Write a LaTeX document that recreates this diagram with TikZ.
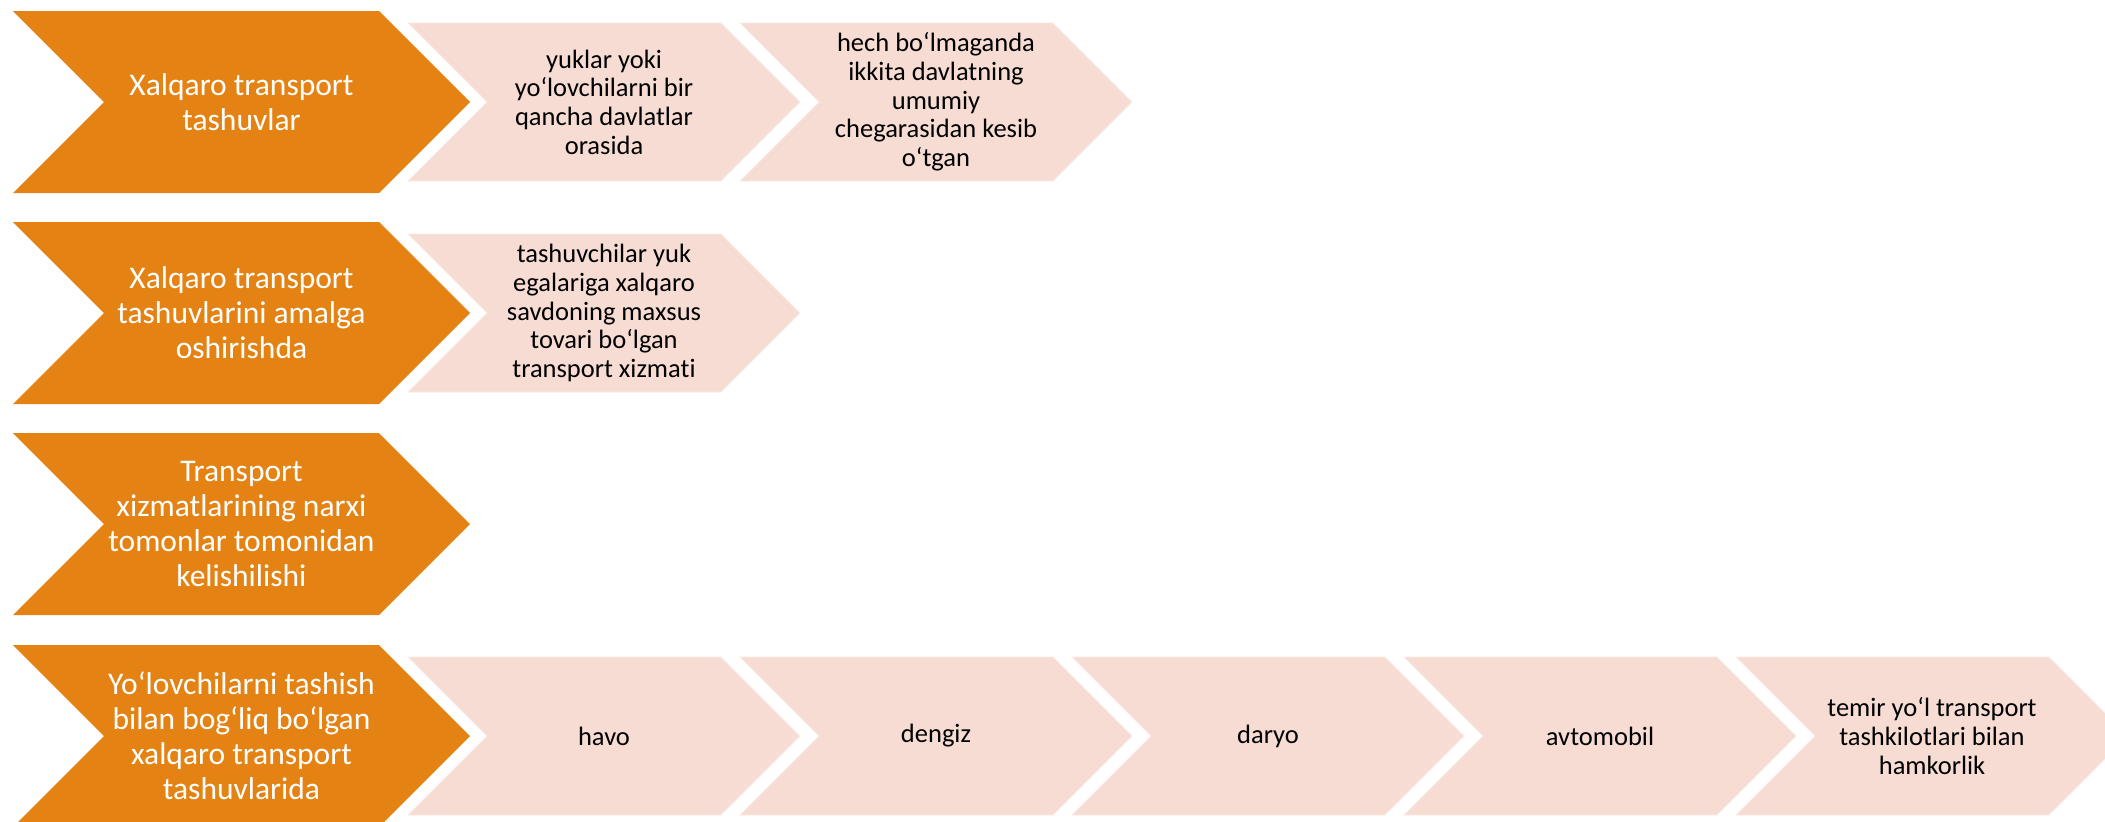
\documentclass[tikz,border=0pt]{standalone}
\usepackage{fontspec}
\setmainfont{Carlito}[Ligatures=NoCommon]
\definecolor{chevorange}{RGB}{228,131,20}
\definecolor{chevpink}{RGB}{246,220,210}
\tikzset{
  orangechev/.style={fill=chevorange},
  pinkchev/.style={fill=chevpink, draw=chevpink!55!white, line width=0.8pt},
  otext/.style={text=white, font=\fontsize{31.5}{35}\selectfont, align=center, inner sep=0pt},
  ptext/.style={text=black, font=\fontsize{26.5}{28.7}\selectfont, align=center, inner sep=0pt},
}
\newcommand\OrangeChev[3]{% name, centre y, text
  \fill[orangechev] (13,#2-91) -- (379,#2-91) -- (470,#2) -- (379,#2+91) -- (13,#2+91) -- (104,#2) -- cycle;
  \node[otext] (#1) at (241.5,#2) {#3};}
\newcommand\PinkChev[4]{% name, left x, centre y, text
  \filldraw[pinkchev] (#2,#3-79) -- (#2+313,#3-79) -- (#2+392,#3) -- (#2+313,#3+79) -- (#2,#3+79) -- (#2+79,#3) -- cycle;
  \node[ptext] (#1) at (#2+196,#3) {#4};}
\begin{document}
\begin{tikzpicture}[x=1pt,y=-1pt]
\clip (0,0) rectangle (2105,822);
\fill[white] (0,0) rectangle (2105,822);
% row 1
\OrangeChev{o1}{102}{Xalqaro transport\\tashuvlar}
\PinkChev{p11}{408}{102}{yuklar yoki\\yoʻlovchilarni bir\\qancha davlatlar\\orasida}
\PinkChev{p12}{740}{102}{hech boʻlmaganda\\ikkita davlatning\\umumiy\\chegarasidan kesib\\oʻtgan}
% row 2
\OrangeChev{o2}{313}{Xalqaro transport\\tashuvlarini amalga\\oshirishda}
\PinkChev{p21}{408}{313}{tashuvchilar yuk\\egalariga xalqaro\\savdoning maxsus\\tovari boʻlgan\\transport xizmati}
% row 3
\OrangeChev{o3}{524}{Transport\\xizmatlarining narxi\\tomonlar tomonidan\\kelishilishi}
% row 4
\OrangeChev{o4}{736}{Yoʻlovchilarni tashish\\bilan bogʻliq boʻlgan\\xalqaro transport\\tashuvlarida}
\PinkChev{p41}{408}{736}{havo}
\PinkChev{p42}{740}{736}{dengiz}
\PinkChev{p43}{1072}{736}{daryo}
\PinkChev{p44}{1404}{736}{avtomobil}
\PinkChev{p45}{1736}{736}{temir yoʻl transport\\tashkilotlari bilan\\hamkorlik}
\end{tikzpicture}
\end{document}
